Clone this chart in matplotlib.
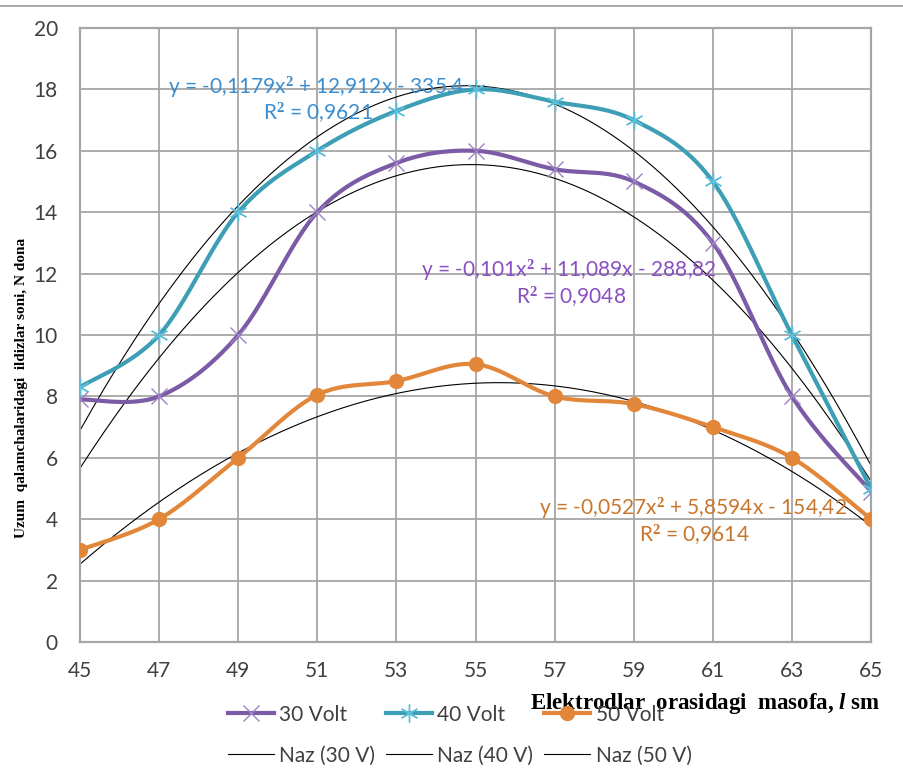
import numpy as np
import matplotlib
matplotlib.use("Agg")
import matplotlib.pyplot as plt
from matplotlib.lines import Line2D

plt.rcParams['font.family'] = ['Lato', 'DejaVu Sans']
plt.rcParams['mathtext.fontset'] = 'custom'
plt.rcParams['mathtext.rm'] = 'Liberation Serif:bold'
plt.rcParams['mathtext.it'] = 'Liberation Serif:italic:bold'

# data
distance = [45, 47, 49, 51, 53, 55, 57, 59, 61, 63, 65]
volt30 = [7.9, 8, 10, 14, 15.6, 16, 15.4, 15, 13, 8, 4.9]
volt40 = [8.3, 10, 14, 16, 17.3, 18, 17.6, 17, 15, 10, 5]
volt50 = [3, 4, 6, 8.05, 8.5, 9.05, 8, 7.75, 7, 6, 4]

# polynomial trendlines (a, b, c) shown on the chart
trend30 = [-0.101, 11.089, -288.82]
trend40 = [-0.1179, 12.912, -335.4]
trend50 = [-0.0527, 5.8594, -154.42]

x_ticks = list(range(45, 66, 2))
y_ticks = list(range(0, 21, 2))

C30 = '#7B5AA6'
C40 = '#3E9EB6'
C50 = '#E2873A'
EQ40 = '#3A8ED0'
EQ30 = '#8A4FC0'
EQ50 = '#C8762C'


def smooth(xs, ys, n=30):
    # Excel-like smoothed line: cubic bezier with 1/6 neighbour tangents
    x = np.asarray(xs, float)
    y = np.asarray(ys, float)
    px = np.concatenate([[x[0]], x, [x[-1]]])
    py = np.concatenate([[y[0]], y, [y[-1]]])
    t = np.linspace(0, 1, n)[:, None]
    out_x, out_y = [], []
    for i in range(len(x) - 1):
        p0 = np.array([px[i + 1], py[i + 1]])
        p3 = np.array([px[i + 2], py[i + 2]])
        p1 = p0 + (p3 - np.array([px[i], py[i]])) / 6
        p2 = p3 - (np.array([px[i + 3], py[i + 3]]) - p0) / 6
        b = ((1 - t) ** 3) * p0 + 3 * ((1 - t) ** 2) * t * p1 + 3 * (1 - t) * t ** 2 * p2 + t ** 3 * p3
        out_x.extend(b[:, 0])
        out_y.extend(b[:, 1])
    return np.array(out_x), np.array(out_y)


fig = plt.figure(figsize=(9.04, 7.81), dpi=100)
ax = fig.add_axes([80 / 904, 1 - 642 / 781, 791 / 904, 614 / 781])

ax.set_xlim(45, 65)
ax.set_ylim(0, 20)
ax.set_xticks(x_ticks)
ax.set_yticks(y_ticks)
ax.grid(True, color='#A6A6A6', linewidth=1.3)
ax.set_axisbelow(True)
for s in ax.spines.values():
    s.set_color('#A6A6A6')
    s.set_linewidth(1.6)
ax.tick_params(length=0, labelsize=15, labelcolor='#404040')
ax.tick_params(axis='x', pad=14)
ax.tick_params(axis='y', pad=16)

xx = np.linspace(45, 65, 200)
for coef in (trend30, trend40, trend50):
    ax.plot(xx, np.polyval(coef, xx), color='black', linewidth=0.8, zorder=2)

sx, sy = smooth(distance, volt30)
ax.plot(sx, sy, color=C30, linewidth=3, zorder=3, solid_capstyle='round')
ax.plot(distance, volt30, linestyle='none', marker='x', markersize=11,
        markeredgecolor='#9D82C4', markeredgewidth=1.0, zorder=4)

sx, sy = smooth(distance, volt40)
ax.plot(sx, sy, color=C40, linewidth=3, zorder=3, solid_capstyle='round')
ax.plot(distance, volt40, linestyle='none', marker=(6, 2, 0), markersize=13,
        markeredgecolor='#5CC0DA', markeredgewidth=1.0, zorder=4)

sx, sy = smooth(distance, volt50)
ax.plot(sx, sy, color=C50, linewidth=3, zorder=3, solid_capstyle='round')
ax.plot(distance, volt50, linestyle='none', marker='o', markersize=10,
        color=C50, zorder=4)

# trendline equations
EQ_SIZE = 15
ax.text(50.97, 18.07, 'y = -0,1179x$^{2}$ + 12,912x - 335,4', color=EQ40,
        fontsize=EQ_SIZE, ha='center', va='center', zorder=5)
ax.text(51.02, 17.23, 'R$^{2}$ = 0,9621', color=EQ40, fontsize=EQ_SIZE,
        ha='center', va='center', zorder=5)
ax.text(57.36, 12.12, 'y = -0,101x$^{2}$ + 11,089x - 288,82', color=EQ30,
        fontsize=EQ_SIZE, ha='center', va='center', zorder=5)
ax.text(57.41, 11.24, 'R$^{2}$ = 0,9048', color=EQ30, fontsize=EQ_SIZE,
        ha='center', va='center', zorder=5)
ax.text(60.5, 4.36, 'y = -0,0527x$^{2}$ + 5,8594x - 154,42', color=EQ50,
        fontsize=EQ_SIZE, ha='center', va='center', zorder=5)
ax.text(60.52, 3.49, 'R$^{2}$ = 0,9614', color=EQ50, fontsize=EQ_SIZE,
        ha='center', va='center', zorder=5)

handles = [
    Line2D([], [], color=C30, linewidth=3, marker='x', markersize=11,
           markeredgecolor='#9D82C4', markeredgewidth=1.0),
    Line2D([], [], color='black', linewidth=0.8),
    Line2D([], [], color=C40, linewidth=3, marker=(6, 2, 0), markersize=13,
           markeredgecolor='#5CC0DA', markeredgewidth=1.0),
    Line2D([], [], color='black', linewidth=0.8),
    Line2D([], [], color=C50, linewidth=3, marker='o', markersize=10),
    Line2D([], [], color='black', linewidth=0.8),
]
labels = ['30 Volt', 'Naz (30 V)', '40 Volt', 'Naz (40 V)', '50 Volt', 'Naz (50 V)']
fig.legend(handles, labels, ncol=3, loc='upper left',
           bbox_to_anchor=(209 / 904, 1 - 686 / 781), frameon=False,
           fontsize=15, handlelength=2.2, handletextpad=0.28,
           columnspacing=0.5, labelspacing=1.0, labelcolor='#404040')

fig.text(880 / 904, 1 - 703 / 781,
         r'Elektrodlar  orasidagi  masofa, $\mathit{l}$ sm',
         ha='right', va='center', fontsize=16.5, fontfamily='Liberation Serif',
         fontweight='bold', color='black')
fig.text(22 / 904, 1 - 388 / 781,
         'Uzum  qalamchalaridagi  ildizlar soni, N dona',
         rotation=90, ha='center', va='center', fontsize=11,
         fontfamily='Liberation Serif', fontweight='bold', color='black')

fig.add_artist(Line2D([0, 1], [1 - 6 / 781, 1 - 6 / 781], color='#9A9A9A',
                      linewidth=1.2, transform=fig.transFigure))

fig.savefig('out.png', dpi=100)
